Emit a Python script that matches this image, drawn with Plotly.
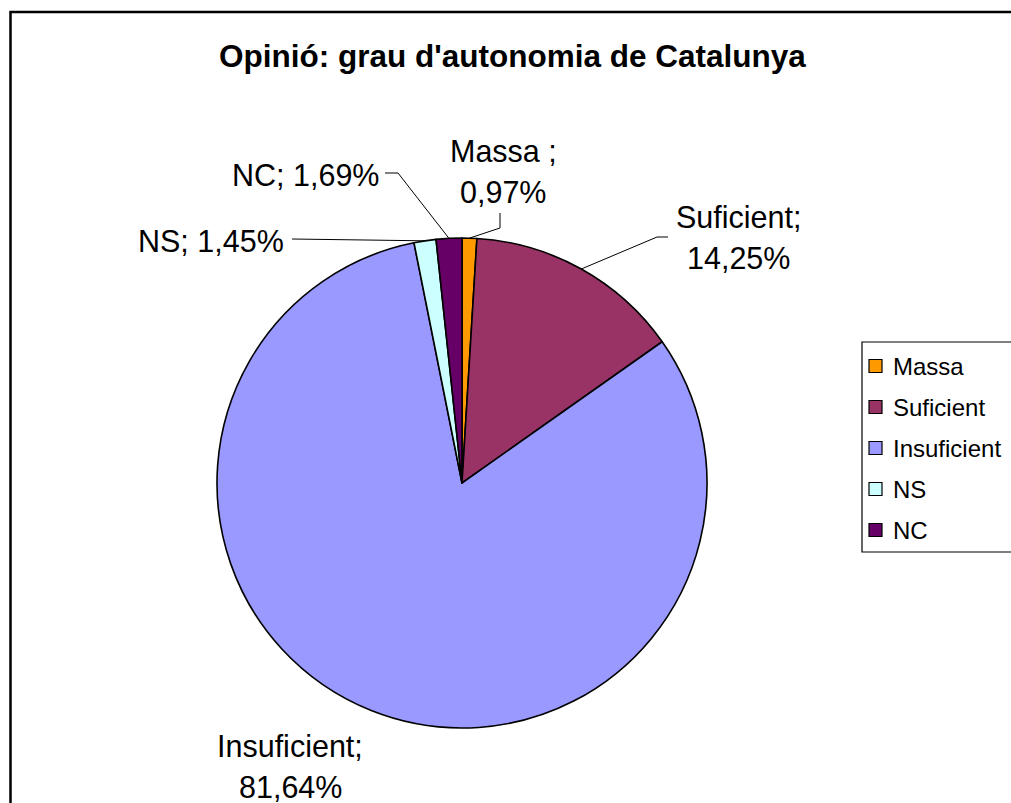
import math
import plotly.graph_objects as go

# ---------------- data ----------------
categories = ["Massa ", "Suficient", "Insuficient", "NS", "NC"]
values = [0.97, 14.25, 81.64, 1.45, 1.69]
colors = ["#FF9900", "#993366", "#9999FF", "#CCFFFF", "#660066"]
title_text = "Opinió: grau d'autonomia de Catalunya"

# ---------------- layout helpers (pixel -> paper) ----------------
W, H = 1011, 803
def px(x):
    return x / W
def py(y):
    return 1 - y / H

CX, CY, R = 462, 483, 245
FONT = "Liberation Sans, Arial, sans-serif"

# label placement (pixels): line centres and leader-line elbow points
label_layout = {
    "Massa ": dict(lines=[(503, 151), (503, 192)], path=[(500, 228), (500, 213)]),
    "Suficient": dict(lines=[(738, 217), (738, 258)], path=[(657, 237), (668, 237)]),
    "Insuficient": dict(lines=[(290, 746), (290, 787)], path=None),
    "NC": dict(lines=[(305, 175)], path=[(398, 173), (385, 173)]),
    "NS": dict(lines=[(211, 241)], path=[(292, 239)]),
}

fig = go.Figure(
    go.Pie(
        labels=categories,
        values=values,
        sort=False,
        direction="clockwise",
        rotation=0,
        marker=dict(colors=colors, line=dict(color="black", width=1.6)),
        textinfo="none",
        hoverinfo="label+percent",
        showlegend=False,
        domain=dict(x=[px(CX - R), px(CX + R)], y=[py(CY + R), py(CY - R)]),
    )
)

annotations = []
shapes = []

# title
annotations.append(dict(
    text=f"<b>{title_text}</b>", x=px(512), y=py(56), xref="paper", yref="paper",
    xanchor="center", yanchor="middle", showarrow=False,
    font=dict(family=FONT, size=31.5, color="black"),
))

# data labels with leader lines
total = sum(values)
cum = 0.0
for cat, val in zip(categories, values):
    mid = (cum + val / 2) / total * 2 * math.pi
    cum += val
    ex = CX + R * math.sin(mid)
    ey = CY - R * math.cos(mid)
    pct = f"{val:.2f}".replace(".", ",") + "%"
    lay = label_layout[cat]
    if len(lay["lines"]) == 2:
        texts = [f"{cat};", pct]
    else:
        texts = [f"{cat}; {pct}"]
    for t, (lx, ly) in zip(texts, lay["lines"]):
        annotations.append(dict(
            text=t, x=px(lx), y=py(ly), xref="paper", yref="paper",
            xanchor="center", yanchor="middle", showarrow=False,
            font=dict(family=FONT, size=30.5, color="black"),
        ))
    if lay["path"]:
        pts = [(ex, ey)] + lay["path"]
        d = "M " + " L ".join(f"{px(x)},{py(y)}" for x, y in pts)
        shapes.append(dict(type="path", path=d, xref="paper", yref="paper",
                           line=dict(color="black", width=1)))

# chart border
shapes.append(dict(type="rect", xref="paper", yref="paper",
                   x0=px(10.5), y0=py(12), x1=px(1040), y1=py(840),
                   line=dict(color="black", width=2.5)))

# legend (drawn from the category list)
shapes.append(dict(type="rect", xref="paper", yref="paper",
                   x0=px(862), y0=py(342), x1=px(1040), y1=py(552),
                   line=dict(color="black", width=1.2)))
for i, (cat, col) in enumerate(zip(categories, colors)):
    yc = 366 + 41 * i
    shapes.append(dict(type="rect", xref="paper", yref="paper",
                       x0=px(869), x1=px(882), y0=py(yc + 6.5), y1=py(yc - 6.5),
                       fillcolor=col, line=dict(color="black", width=1.2)))
    annotations.append(dict(
        text=cat.strip(), x=px(891), y=py(yc), xref="paper", yref="paper",
        xanchor="left", yanchor="middle", showarrow=False,
        font=dict(family=FONT, size=24, color="black"),
    ))

fig.update_layout(
    width=W, height=H,
    margin=dict(l=0, r=0, t=0, b=0),
    paper_bgcolor="white", plot_bgcolor="white",
    annotations=annotations, shapes=shapes,
    showlegend=False,
)

fig.write_html(
    "out.html",
    config={"displayModeBar": False},
    post_script="document.body.style.margin='0';document.body.style.overflow='hidden';",
)
